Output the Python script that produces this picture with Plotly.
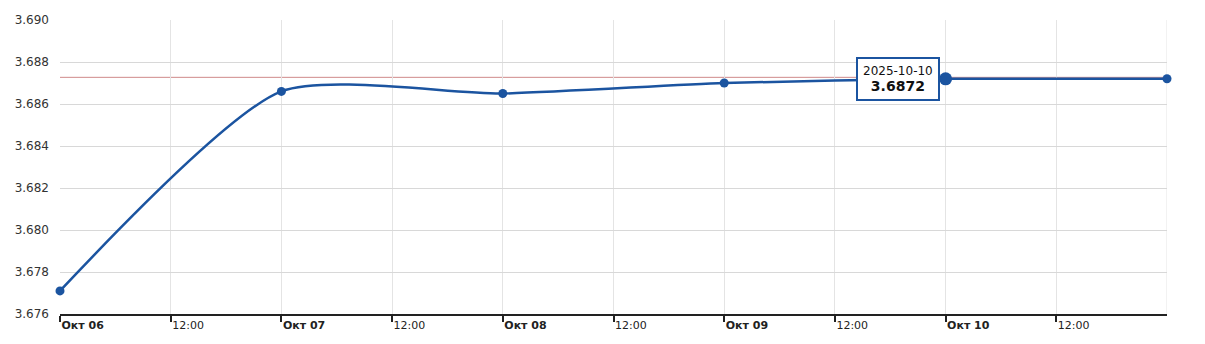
import plotly.graph_objects as go

dates = ["2025-10-06", "2025-10-07", "2025-10-08", "2025-10-09", "2025-10-10", "2025-10-11"]
rates = [3.6771, 3.6866, 3.6865, 3.6870, 3.6872, 3.6872]
current_rate = 3.68727
hover_date = "2025-10-10"
hover_rate = 3.6872
hover_label = "2025-10-10"

tick_vals = ["2025-10-06 00:00", "2025-10-06 12:00", "2025-10-07 00:00", "2025-10-07 12:00",
             "2025-10-08 00:00", "2025-10-08 12:00", "2025-10-09 00:00", "2025-10-09 12:00",
             "2025-10-10 00:00", "2025-10-10 12:00"]
tick_text = ["<b>Окт 06</b>", "12:00", "<b>Окт 07</b>", "12:00", "<b>Окт 08</b>", "12:00",
             "<b>Окт 09</b>", "12:00", "<b>Окт 10</b>", "12:00"]
y_ticks = [3.676, 3.678, 3.680, 3.682, 3.684, 3.686, 3.688, 3.690]

blue = "#1b54a0"
font = "DejaVu Sans, Verdana, sans-serif"

fig = go.Figure()
fig.add_hline(y=current_rate, line=dict(color="#cf8a8a", width=1), layer="below")
fig.add_trace(go.Scatter(
    x=dates, y=rates, mode="lines+markers",
    line=dict(color=blue, width=2.5, shape="spline", smoothing=0.65),
    marker=dict(color=blue, size=9), cliponaxis=False,
    hoverinfo="skip", showlegend=False))
fig.add_trace(go.Scatter(
    x=[hover_date], y=[hover_rate], mode="markers", cliponaxis=False,
    marker=dict(color=blue, size=13), hoverinfo="skip", showlegend=False))

fig.add_annotation(
    x=hover_date, y=hover_rate, xref="x", yref="y",
    text=f"<span style='font-size:12px'>{hover_label}</span><br><b style='font-size:14px'>{hover_rate:.4f}</b>",
    showarrow=True, ax=-48, ay=0, arrowhead=0, arrowwidth=2, arrowcolor=blue, standoff=6,
    bgcolor="white", bordercolor=blue, borderwidth=2, borderpad=5,
    font=dict(family=font, color="#111", size=12), align="center")

fig.update_layout(
    width=1205, height=344,
    margin=dict(l=60, r=38, t=20, b=30),
    paper_bgcolor="white", plot_bgcolor="white",
    font=dict(family=font, color="#222", size=11),
    xaxis=dict(
        range=["2025-10-06 00:00", "2025-10-11 00:00"],
        tickvals=tick_vals, ticktext=tick_text,
        ticklabelposition="outside right",
        showgrid=True, gridcolor="#e4e4e4", gridwidth=1,
        showline=True, linecolor="#222", linewidth=1.5,
        ticks="outside", ticklen=6, tickcolor="#222", tickwidth=1.5,
        tickfont=dict(size=11, color="#222"), zeroline=False,
        fixedrange=True),
    yaxis=dict(
        range=[3.676, 3.690], tickvals=y_ticks,
        ticktext=[f"{v:.3f}" for v in y_ticks],
        showgrid=True, gridcolor="#d8d8d8", gridwidth=1,
        showline=False, zeroline=False, ticks="", ticklabelstandoff=10,
        tickfont=dict(size=12, color="#333"), fixedrange=True),
)
fig.add_vline(x="2025-10-11 00:00", line=dict(color="#e4e4e4", width=1), layer="below")

fig.write_html("out.html")
